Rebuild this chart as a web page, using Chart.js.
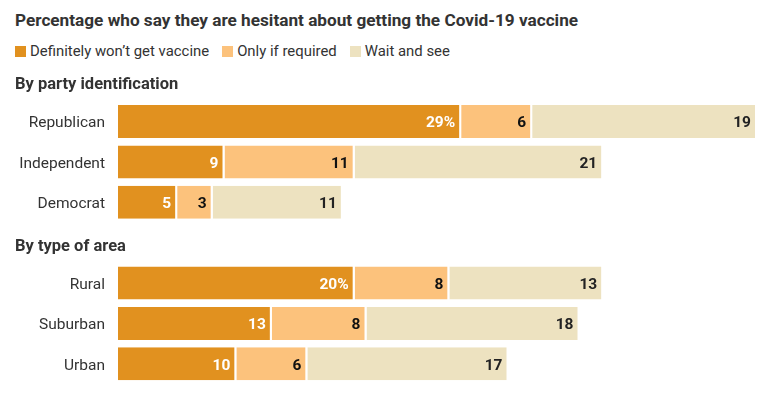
<!DOCTYPE html>
<html>
<head>
<meta charset="utf-8">
<script src="https://cdn.jsdelivr.net/npm/chart.js@4/dist/chart.umd.min.js"></script>
<style>
  html, body { margin: 0; padding: 0; background: #fff; }
  body { width: 772px; height: 394px; position: relative; overflow: hidden; font-family: Roboto, "Liberation Sans", sans-serif; color: #333; }
  #title { position: absolute; left: 15px; top: 10px; font-weight: 700; font-size: 17.2px; line-height: 20px; color: #333; white-space: nowrap; }
  #legend { position: absolute; left: 15px; top: 41px; display: flex; font-size: 14.9px; line-height: 20px; color: #333; white-space: nowrap; }
  .item { display: flex; align-items: center; margin-right: 13px; }
  .sw { width: 11px; height: 11px; margin-right: 4px; }
  #wrap { position: absolute; left: 0; top: 60px; width: 772px; height: 334px; }
</style>
</head>
<body>
<div id="title"></div>
<div id="legend"></div>
<div id="wrap"><canvas id="c" width="772" height="334"></canvas></div>
<script>
// ---- Data ----
const chartTitle = "Percentage who say they are hesitant about getting the Covid-19 vaccine";
const seriesNames = ["Definitely won\u2019t get vaccine", "Only if required", "Wait and see"];
const seriesColors = ["#E1911F", "#FCC27C", "#EDE2C0"];
const labelColors = ["#ffffff", "#111111", "#222222"];

const groupHeaders = ["By party identification", "By type of area"];
const partyCategories = ["Republican", "Independent", "Democrat"];
const areaCategories = ["Rural", "Suburban", "Urban"];

const partyDefinitely = [29, 9, 5];
const partyOnlyIfRequired = [6, 11, 3];
const partyWaitAndSee = [19, 21, 11];

const areaDefinitely = [20, 13, 10];
const areaOnlyIfRequired = [8, 8, 6];
const areaWaitAndSee = [13, 18, 17];

// ---- Build rows (header row + categories per group) ----
const labels = [groupHeaders[0], ...partyCategories, groupHeaders[1], ...areaCategories];
const isHeader = labels.map((l, i) => i === 0 || i === partyCategories.length + 1);
const series = [
  [null, ...partyDefinitely, null, ...areaDefinitely],
  [null, ...partyOnlyIfRequired, null, ...areaOnlyIfRequired],
  [null, ...partyWaitAndSee, null, ...areaWaitAndSee]
];
// first bar in each group gets a % sign
const pctRows = [1, partyCategories.length + 2];

document.getElementById('title').textContent = chartTitle;
const leg = document.getElementById('legend');
seriesNames.forEach((n, i) => {
  const it = document.createElement('div'); it.className = 'item';
  const sw = document.createElement('div'); sw.className = 'sw'; sw.style.background = seriesColors[i];
  const tx = document.createElement('span'); tx.textContent = n;
  it.appendChild(sw); it.appendChild(tx); leg.appendChild(it);
});

const FONT = "Roboto, 'Liberation Sans', sans-serif";

const headerPlugin = {
  id: 'headers',
  afterDraw(chart) {
    const ctx = chart.ctx, y = chart.scales.y;
    ctx.save();
    ctx.font = "700 16.5px " + FONT;
    ctx.fillStyle = "#333";
    ctx.textAlign = 'left';
    ctx.textBaseline = 'middle';
    labels.forEach((l, i) => {
      if (isHeader[i]) ctx.fillText(l, 15, y.getPixelForValue(i) + 4);
    });
    ctx.restore();
  }
};

const valuePlugin = {
  id: 'values',
  afterDatasetsDraw(chart) {
    const ctx = chart.ctx;
    ctx.save();
    ctx.font = "700 15.5px " + FONT;
    ctx.textAlign = 'right';
    ctx.textBaseline = 'middle';
    chart.data.datasets.forEach((ds, di) => {
      const meta = chart.getDatasetMeta(di);
      meta.data.forEach((el, i) => {
        const v = ds.data[i];
        if (v === null || v === undefined) return;
        const txt = (di === 0 && pctRows.includes(i)) ? v + '%' : String(v);
        ctx.fillStyle = labelColors[di];
        ctx.fillText(txt, el.x - 6, el.y + 2);
      });
    });
    ctx.restore();
  }
};

new Chart(document.getElementById('c'), {
  type: 'bar',
  data: {
    labels: labels,
    datasets: series.map((d, i) => ({
      label: seriesNames[i],
      data: d,
      backgroundColor: seriesColors[i],
      borderColor: '#ffffff',
      borderWidth: { top: 0, bottom: 0, left: 0, right: 2 },
      borderSkipped: false,
      barPercentage: 0.82,
      categoryPercentage: 1
    }))
  },
  options: {
    indexAxis: 'y',
    responsive: false,
    animation: false,
    devicePixelRatio: 1,
    layout: { padding: { top: 1, bottom: 10, right: 15, left: 0 } },
    plugins: { legend: { display: false }, tooltip: { enabled: false }, title: { display: false } },
    scales: {
      x: { stacked: true, display: false, min: 0, max: 54 },
      y: {
        stacked: true,
        grid: { display: false, drawTicks: false },
        border: { display: false },
        ticks: {
          padding: 13,
          autoSkip: false,
          labelOffset: 2,
          color: '#333',
          font: { family: FONT, size: 15.5 },
          callback: function(v, i) { return isHeader[i] ? '' : labels[i]; }
        },
        afterFit(scale) {
          scale.width = 118;
          scale.paddingTop = 0;
          scale.paddingBottom = 0;
        }
      }
    }
  },
  plugins: [headerPlugin, valuePlugin]
});
</script>
</body>
</html>
